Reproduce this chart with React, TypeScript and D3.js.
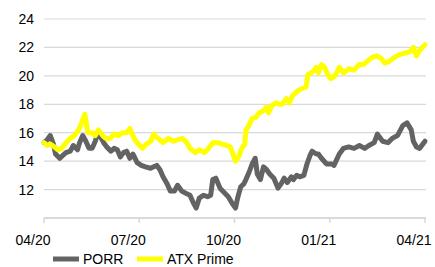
import React from "react";
import * as d3 from "d3";

const porrDates = [
  "2020-04-01","2020-04-04","2020-04-07","2020-04-10","2020-04-12","2020-04-16","2020-04-19","2020-04-22","2020-04-26","2020-04-29",
  "2020-05-03","2020-05-05","2020-05-08","2020-05-11","2020-05-14","2020-05-17","2020-05-20","2020-05-22","2020-05-25","2020-05-28","2020-05-31",
  "2020-06-04","2020-06-07","2020-06-10","2020-06-13","2020-06-16","2020-06-19","2020-06-22","2020-06-25","2020-06-29",
  "2020-07-03","2020-07-07","2020-07-12","2020-07-15","2020-07-18","2020-07-21","2020-07-24","2020-07-28","2020-07-31",
  "2020-08-04","2020-08-07","2020-08-11","2020-08-16","2020-08-19","2020-08-22","2020-08-25","2020-08-28",
  "2020-09-01","2020-09-05","2020-09-08","2020-09-10","2020-09-13","2020-09-17","2020-09-21","2020-09-25","2020-09-29",
  "2020-10-02","2020-10-04","2020-10-07","2020-10-10","2020-10-12","2020-10-15","2020-10-18","2020-10-21","2020-10-23","2020-10-26","2020-10-29",
  "2020-11-01","2020-11-04","2020-11-08","2020-11-12","2020-11-15","2020-11-18","2020-11-21","2020-11-25","2020-11-27","2020-11-30",
  "2020-12-03","2020-12-07","2020-12-10","2020-12-13","2020-12-15","2020-12-19","2020-12-21","2020-12-24","2020-12-29",
  "2021-01-03","2021-01-05","2021-01-10","2021-01-14","2021-01-19","2021-01-24","2021-01-29",
  "2021-02-03","2021-02-07","2021-02-12","2021-02-15","2021-02-20","2021-02-25",
  "2021-03-01","2021-03-06","2021-03-11","2021-03-15","2021-03-19","2021-03-21","2021-03-24","2021-03-27","2021-03-30","2021-04-01",
];
const porrValues = [
  15.3,15.5,15.8,15.2,14.5,14.2,14.4,14.6,14.7,15.1,
  14.8,15.3,15.8,15.4,14.9,14.9,15.4,15.9,15.7,15.3,15.0,
  14.7,14.9,14.8,14.3,14.6,14.7,14.2,14.5,13.9,
  13.7,13.6,13.5,13.6,13.7,13.4,12.9,12.4,11.9,
  11.9,12.3,11.9,11.7,11.6,11.1,10.7,11.4,
  11.6,11.5,11.6,12.7,12.8,12.1,11.8,11.5,11.0,
  10.7,11.4,12.2,12.4,12.7,13.2,13.8,14.2,13.1,12.7,13.6,
  13.4,13.1,12.8,12.1,12.4,12.8,12.5,12.9,12.7,13.0,
  12.9,13.0,13.8,14.4,14.7,14.5,14.5,14.2,13.8,
  13.8,13.7,14.5,14.9,15.0,14.9,15.1,
  14.9,15.1,15.3,15.9,15.4,15.3,
  15.6,15.8,16.5,16.7,16.2,15.4,15.0,14.9,15.2,15.4,
];

const atxDates = [
  "2020-04-01","2020-04-04","2020-04-07","2020-04-11","2020-04-14","2020-04-18","2020-04-22","2020-04-26","2020-04-30",
  "2020-05-04","2020-05-06","2020-05-10","2020-05-13","2020-05-17","2020-05-20","2020-05-23","2020-05-27","2020-05-30",
  "2020-06-03","2020-06-07","2020-06-11","2020-06-15","2020-06-19","2020-06-22","2020-06-26","2020-06-30",
  "2020-07-04","2020-07-08","2020-07-12","2020-07-15","2020-07-19","2020-07-24","2020-07-29",
  "2020-08-03","2020-08-07","2020-08-12","2020-08-16","2020-08-19","2020-08-24","2020-08-28",
  "2020-09-02","2020-09-07","2020-09-10","2020-09-15","2020-09-19","2020-09-24","2020-09-27","2020-09-29",
  "2020-10-02","2020-10-05","2020-10-08","2020-10-11","2020-10-12","2020-10-15","2020-10-18","2020-10-22","2020-10-25","2020-10-28",
  "2020-11-01","2020-11-03","2020-11-06","2020-11-10","2020-11-13","2020-11-16","2020-11-20","2020-11-23","2020-11-26","2020-11-29",
  "2020-12-02","2020-12-05","2020-12-09","2020-12-11","2020-12-14","2020-12-17","2020-12-19","2020-12-21","2020-12-24","2020-12-27","2020-12-30",
  "2021-01-02","2021-01-06","2021-01-10","2021-01-14","2021-01-19","2021-01-24","2021-01-29",
  "2021-02-02","2021-02-05","2021-02-10","2021-02-15","2021-02-19","2021-02-22","2021-02-26",
  "2021-03-03","2021-03-08","2021-03-13","2021-03-18","2021-03-21","2021-03-24","2021-03-27","2021-04-01",
];
const atxValues = [
  15.3,15.1,15.2,15.0,14.8,14.9,15.3,15.6,15.8,
  16.2,16.5,17.3,16.0,16.0,15.8,16.2,15.8,15.6,
  15.6,15.9,15.8,16.0,16.0,16.3,15.6,15.2,
  14.9,15.2,15.4,15.9,15.6,15.3,15.6,
  15.4,15.5,15.6,15.3,14.9,14.6,14.8,
  14.6,15.0,15.3,15.3,15.2,15.1,15.0,14.6,
  14.0,14.3,14.9,15.2,16.2,16.5,17.0,17.1,17.4,17.5,
  17.8,17.4,17.9,18.1,18.0,18.0,18.4,18.1,18.6,18.8,
  19.0,19.1,19.2,20.1,20.2,20.4,20.6,20.2,20.8,20.6,20.1,
  19.8,20.0,20.6,20.2,20.5,20.4,20.8,
  20.8,21.0,21.3,21.4,21.2,20.9,21.0,
  21.3,21.5,21.6,21.7,22.0,21.4,21.8,22.2,
];

const seriesNames = ["PORR", "ATX Prime"];
const seriesColors = ["#636363", "#FFFF00"];
const yTicks = [12, 14, 16, 18, 20, 22, 24];
const xTickDates = ["2020-04-01", "2020-07-01", "2020-10-01", "2021-01-01", "2021-04-01"];

const W = 435;
const H = 267;
const left = 44;
const right = 425;
const top = 19;
const bottom = 218;
const FONT = "'Liberation Sans', Arial, sans-serif";

export default function App() {
  const parse = d3.timeParse("%Y-%m-%d");
  const tickDates = xTickDates.map((s) => parse(s) as Date);
  const step = (right - left) / (tickDates.length - 1);
  const x = d3
    .scaleTime()
    .domain(tickDates)
    .range(tickDates.map((_, i) => left + i * step));
  const y = d3.scaleLinear().domain([10, 24]).range([bottom, top]);
  const fmt = d3.timeFormat("%m/%y");

  const line = d3
    .line<[Date, number]>()
    .x((d) => x(d[0]))
    .y((d) => y(d[1]))
    .curve(d3.curveLinear);

  const porr: [Date, number][] = porrDates.map((s, i) => [parse(s) as Date, porrValues[i]]);
  const atx: [Date, number][] = atxDates.map((s, i) => [parse(s) as Date, atxValues[i]]);
  const series = [porr, atx];

  return (
    <svg width={W} height={H} style={{ position: "absolute", left: 0, top: 0, background: "#fff" }}>
      {yTicks.map((t) => (
        <g key={t}>
          <line x1={left} x2={right + 1} y1={y(t)} y2={y(t)} stroke="#d9d9d9" strokeWidth={1.2} />
          <text x={34} y={y(t)} dy="0.36em" textAnchor="end" fontFamily={FONT} fontSize={14} fill="#000">
            {t}
          </text>
        </g>
      ))}
      <line x1={left} x2={right + 1} y1={bottom} y2={bottom} stroke="#d9d9d9" strokeWidth={2} />
      {tickDates.map((d, i) => (
        <g key={i}>
          <line x1={x(d)} x2={x(d)} y1={bottom} y2={bottom + 5} stroke="#d9d9d9" strokeWidth={1.5} />
          <text x={x(d) - 11} y={245} textAnchor="middle" fontFamily={FONT} fontSize={14} fill="#000">
            {fmt(d)}
          </text>
        </g>
      ))}
      {series.map((s, i) => (
        <path
          key={i}
          d={line(s) || ""}
          fill="none"
          stroke={seriesColors[i]}
          strokeWidth={5}
          strokeLinejoin="round"
          strokeLinecap="round"
        />
      ))}
      {seriesNames.map((n, i) => {
        const lx = i === 0 ? 53 : 137;
        return (
          <g key={n}>
            <line x1={lx} x2={lx + 26} y1={259} y2={259} stroke={seriesColors[i]} strokeWidth={5} />
            <text x={lx + 30} y={264} fontFamily={FONT} fontSize={14} fill="#000">
              {n}
            </text>
          </g>
        );
      })}
    </svg>
  );
}
